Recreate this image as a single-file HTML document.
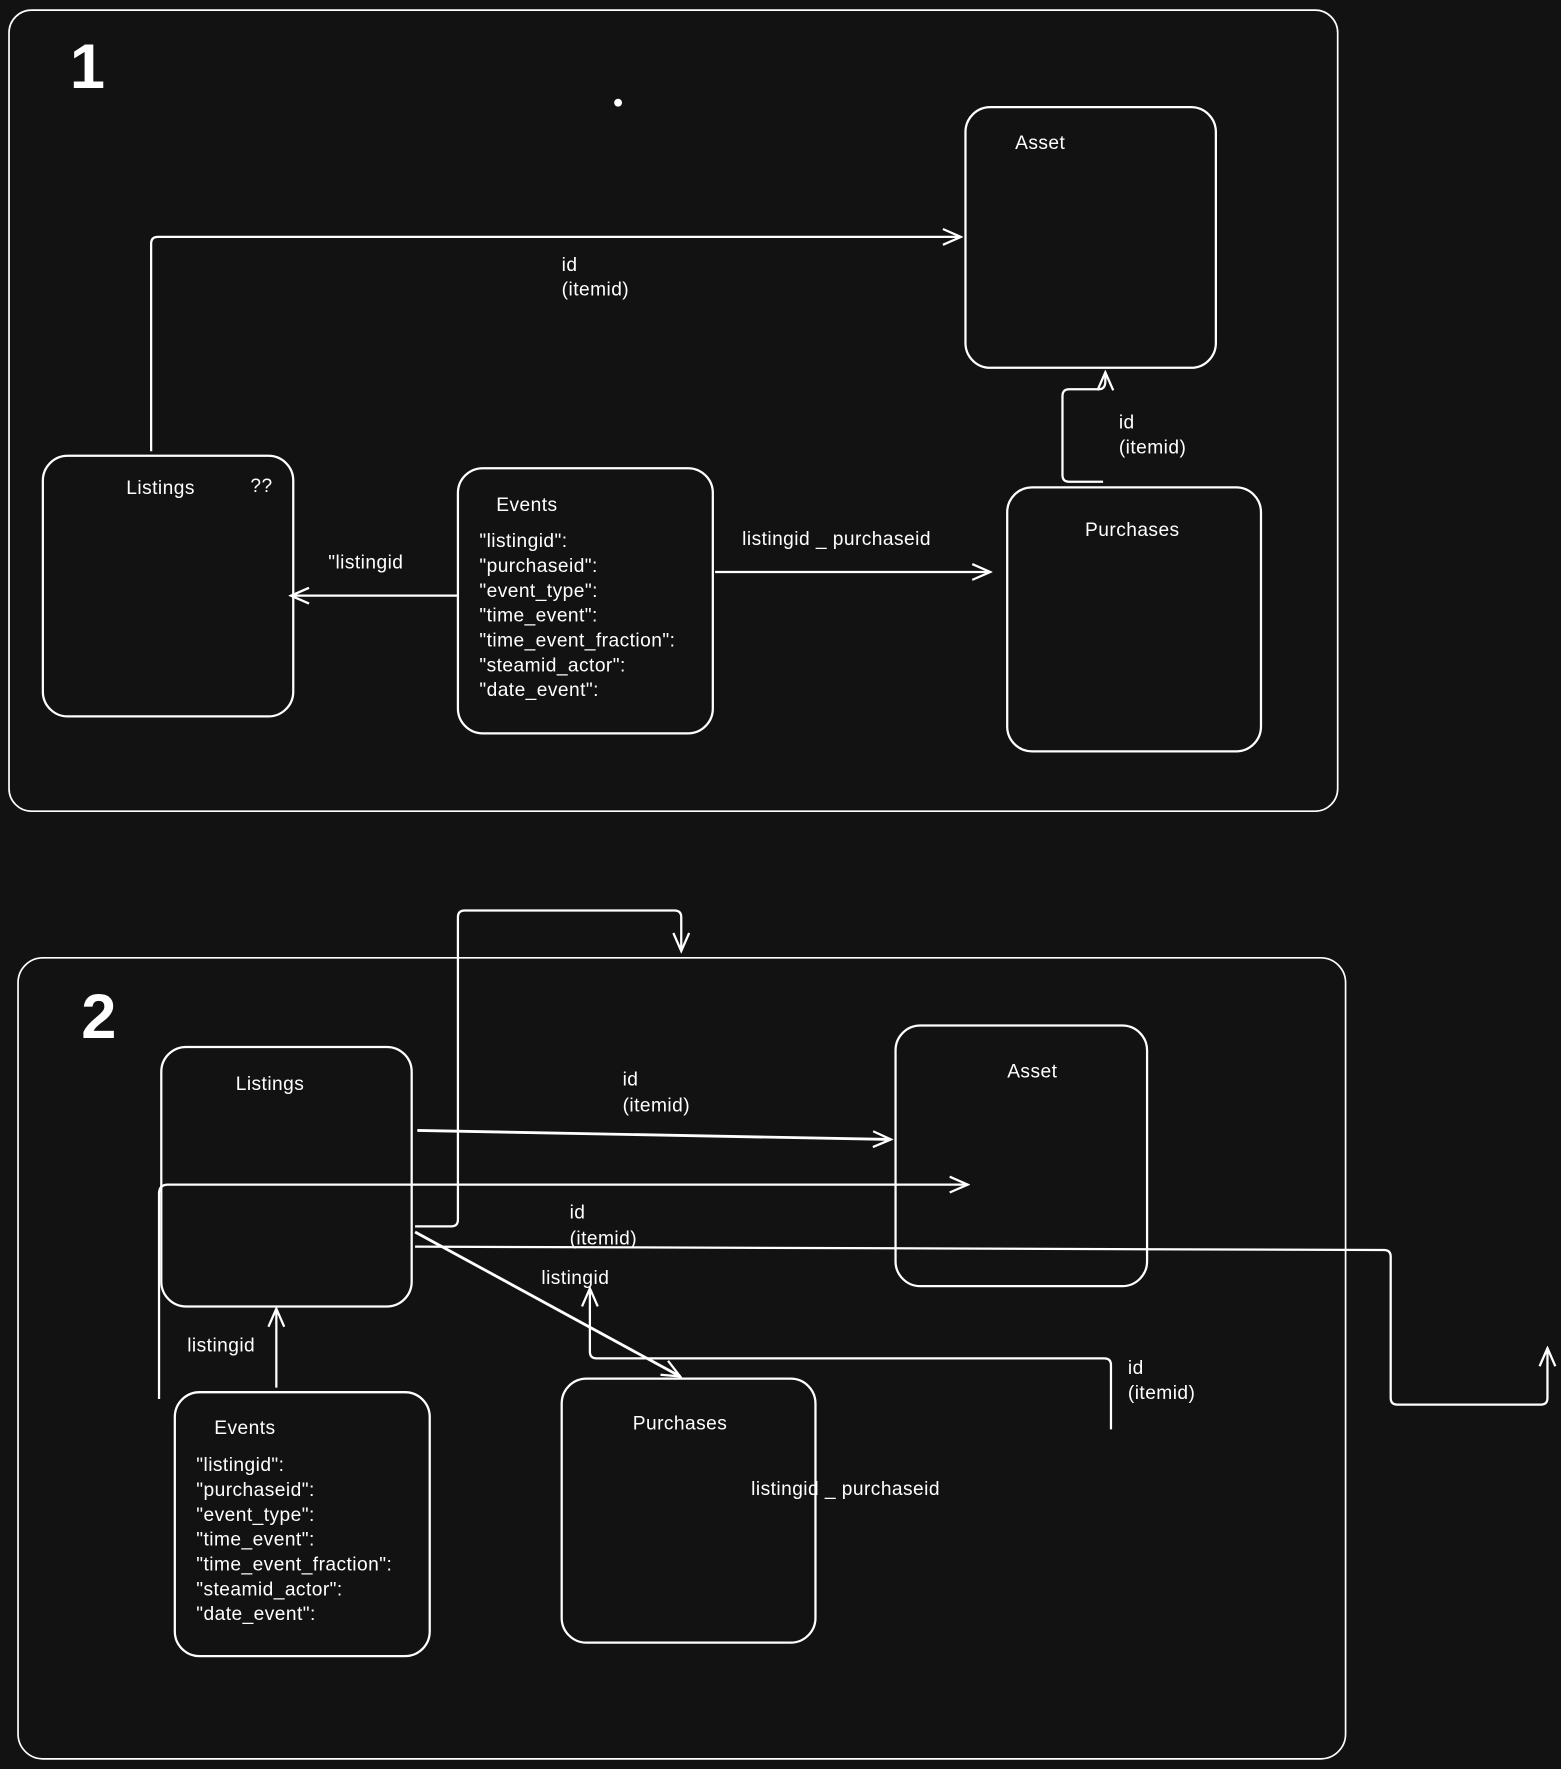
<!DOCTYPE html>
<html><head><style>
html,body{margin:0;padding:0;background:#121212;}
svg{display:block;}
text{font-family:"Liberation Sans",sans-serif;fill:#fff;font-size:17px;letter-spacing:0.4px;}
</style></head><body>
<svg width="1561" height="1769" viewBox="0 0 1384 1568" preserveAspectRatio="none" xmlns="http://www.w3.org/2000/svg">
<defs>
<marker id="a" viewBox="0 0 20 20" refX="18" refY="10" markerWidth="20" markerHeight="20" markerUnits="userSpaceOnUse" orient="auto">
<path d="M2,3 L18,10 L2,17" fill="none" stroke="#fff" stroke-width="2"/>
</marker>
</defs>
<rect width="1384" height="1568" fill="#121212"/>
<g fill="none" stroke="#fff" stroke-width="2">
<rect x="8" y="9" width="1178" height="710" rx="20" stroke-width="1.5"/>
<rect x="856" y="95" width="222" height="231" rx="22"/>
<rect x="38" y="404" width="222" height="231" rx="22"/>
<rect x="406" y="415" width="226" height="235" rx="22"/>
<rect x="893" y="432" width="225" height="234" rx="22"/>
<path d="M134,400 L134,216 Q134,210 140,210 L852,210" marker-end="url(#a)"/>
<path d="M406,528 L258,528" marker-end="url(#a)"/>
<path d="M634,507 L878,507" marker-end="url(#a)"/>
<path d="M978,427 L948,427 Q942,427 942,421 L942,351 Q942,345 948,345 L974,345 Q980,345 980,338 L980,330" marker-end="url(#a)"/>
<rect x="16" y="849" width="1177" height="710" rx="22" stroke-width="1.5"/>
<rect x="143" y="928" width="222" height="230" rx="22"/>
<rect x="794" y="909" width="223" height="231" rx="22"/>
<rect x="155" y="1234" width="226" height="234" rx="22"/>
<rect x="498" y="1222" width="225" height="234" rx="22"/>
<path d="M370,1002 L790,1010" marker-end="url(#a)" stroke-width="2.5"/>
<path d="M141,1240 L141,1058 Q141,1050 149,1050 L858,1050" marker-end="url(#a)"/>
<path d="M368,1087 L400,1087 Q406,1087 406,1081 L406,813 Q406,807 412,807 L598,807 Q604,807 604,813 L604,843" marker-end="url(#a)"/>
<path d="M368,1105 L1227,1108 Q1233,1108 1233,1114 L1233,1239 Q1233,1245 1239,1245 L1366,1245 Q1372,1245 1372,1239 L1372,1195" marker-end="url(#a)"/>
<path d="M368,1092 L603,1220" marker-end="url(#a)" stroke-width="2.5"/>
<path d="M985,1267 L985,1210 Q985,1204 979,1204 L529,1204 Q523,1204 523,1198 L523,1142" marker-end="url(#a)"/>
<path d="M245,1230 L245,1160" marker-end="url(#a)"/>
</g>
<circle cx="548" cy="91" r="3.5" fill="#fff"/>
<text x="62" y="78" style="font-size:56px;font-weight:bold">1</text>
<text x="900" y="132">Asset</text>
<text x="498" y="240">id</text><text x="498" y="262">(itemid)</text>
<text x="112" y="438">Listings</text><text x="222" y="436">??</text>
<text x="440" y="453">Events</text>
<text x="425" y="485">"listingid":</text>
<text x="425" y="507">"purchaseid":</text>
<text x="425" y="529">"event_type":</text>
<text x="425" y="551">"time_event":</text>
<text x="425" y="573">"time_event_fraction":</text>
<text x="425" y="595">"steamid_actor":</text>
<text x="425" y="617">"date_event":</text>
<text x="291" y="504">"listingid</text>
<text x="658" y="483">listingid _ purchaseid</text>
<text x="962" y="475">Purchases</text>
<text x="992" y="380">id</text><text x="992" y="402">(itemid)</text>
<text x="72" y="920" style="font-size:56px;font-weight:bold">2</text>
<text x="209" y="966">Listings</text>
<text x="893" y="955">Asset</text>
<text x="552" y="962">id</text><text x="552" y="985">(itemid)</text>
<text x="505" y="1080">id</text><text x="505" y="1103">(itemid)</text>
<text x="480" y="1138">listingid</text>
<text x="1000" y="1218">id</text><text x="1000" y="1240">(itemid)</text>
<text x="166" y="1198">listingid</text>
<text x="190" y="1271">Events</text>
<text x="174" y="1304">"listingid":</text>
<text x="174" y="1326">"purchaseid":</text>
<text x="174" y="1348">"event_type":</text>
<text x="174" y="1370">"time_event":</text>
<text x="174" y="1392">"time_event_fraction":</text>
<text x="174" y="1414">"steamid_actor":</text>
<text x="174" y="1436">"date_event":</text>
<text x="561" y="1267">Purchases</text>
<text x="666" y="1325">listingid _ purchaseid</text>
</svg>
</body></html>
